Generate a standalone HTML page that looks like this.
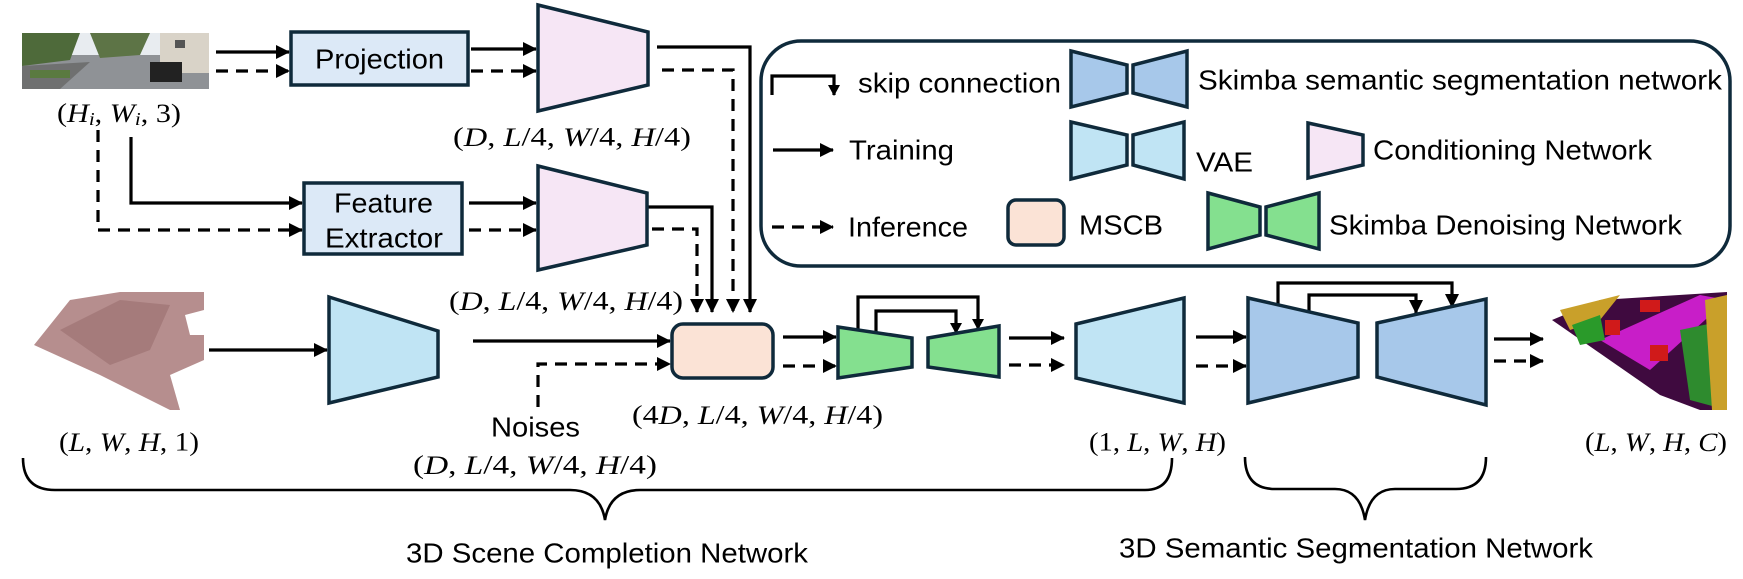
<!DOCTYPE html>
<html><head><meta charset="utf-8"><style>
html,body{margin:0;padding:0;background:#fff;}
svg{display:block;}
.s{font-family:"Liberation Sans",Arial,sans-serif;font-size:28px;fill:#000;}
.m{font-family:"Liberation Serif",serif;font-size:26px;fill:#000;}
.i{font-style:italic;}
</style></head><body>
<svg width="1743" height="579" viewBox="0 0 1743 579" xmlns="http://www.w3.org/2000/svg">
<defs>
<marker id="a" markerUnits="userSpaceOnUse" markerWidth="14" markerHeight="14" refX="13" refY="7" orient="auto"><path d="M0,0 L14,7 L0,14 z" fill="#000"/></marker>
<marker id="b" markerUnits="userSpaceOnUse" markerWidth="11" markerHeight="12" refX="10" refY="6" orient="auto"><path d="M0,0 L11,6 L0,12 z" fill="#000"/></marker>
</defs>
<g stroke="#000" stroke-width="3.2" fill="none">
<!-- photo to projection -->
<line x1="216" y1="52" x2="289" y2="52" marker-end="url(#a)"/>
<line x1="216" y1="71" x2="289" y2="71" stroke-dasharray="12 8" marker-end="url(#a)"/>
<line x1="471" y1="49" x2="536" y2="49" marker-end="url(#a)"/>
<line x1="471" y1="71" x2="536" y2="71" stroke-dasharray="12 8" marker-end="url(#a)"/>
<path d="M657,47 H750 V312" marker-end="url(#a)"/>
<path d="M662,70 H733 V312" stroke-dasharray="12 8" marker-end="url(#a)"/>
<path d="M648,207 H712 V312" marker-end="url(#a)"/>
<path d="M652,229 H697 V312" stroke-dasharray="12 8" marker-end="url(#a)"/>
<path d="M131,137 V203 H302" marker-end="url(#a)"/>
<path d="M98,130 V230 H302" stroke-dasharray="12 8" marker-end="url(#a)"/>
<line x1="469" y1="203" x2="536" y2="203" marker-end="url(#a)"/>
<line x1="469" y1="230" x2="536" y2="230" stroke-dasharray="12 8" marker-end="url(#a)"/>
<line x1="209" y1="350" x2="327" y2="350" marker-end="url(#a)"/>
<line x1="473" y1="341" x2="670" y2="341" marker-end="url(#a)"/>
<path d="M538,407 V364 H670" stroke-dasharray="12 8" marker-end="url(#a)"/>
<line x1="783" y1="337" x2="836" y2="337" marker-end="url(#a)"/>
<line x1="783" y1="366" x2="836" y2="366" stroke-dasharray="12 8" marker-end="url(#a)"/>
<line x1="1009" y1="338" x2="1064" y2="338" marker-end="url(#a)"/>
<line x1="1009" y1="365" x2="1064" y2="365" stroke-dasharray="12 8" marker-end="url(#a)"/>
<line x1="1196" y1="337" x2="1246" y2="337" marker-end="url(#a)"/>
<line x1="1196" y1="366" x2="1246" y2="366" stroke-dasharray="12 8" marker-end="url(#a)"/>
<line x1="1494" y1="339" x2="1543" y2="339" marker-end="url(#a)"/>
<line x1="1494" y1="361" x2="1543" y2="361" stroke-dasharray="12 8" marker-end="url(#a)"/>
<!-- skips -->
<path d="M858,330 V297 H978 V329" marker-end="url(#b)"/>
<path d="M876,333 V311 H956 V333" marker-end="url(#b)"/>
<path d="M1278,305 V283 H1452 V307" marker-end="url(#a)"/>
<path d="M1309,312 V295 H1416 V313" marker-end="url(#a)"/>
<!-- legend arrows -->
<path d="M772,95 V76 H834 V95" marker-end="url(#b)"/>
<line x1="773" y1="150" x2="833" y2="150" marker-end="url(#a)"/>
<line x1="772" y1="227" x2="833" y2="227" stroke-dasharray="12 8" marker-end="url(#a)"/>
<!-- braces -->
<path d="M23,458 Q23,490 55,490 H570 Q600,490 605,520 Q610,490 640,490 H1145 Q1172,490 1172,458" stroke-width="2.6"/>
<path d="M1245,457 Q1245,489 1275,489 H1335 Q1360,489 1365,520 Q1370,489 1395,489 H1456 Q1486,489 1486,457" stroke-width="2.6"/>
</g>
<!-- shapes -->
<g stroke="#0f2a3b" stroke-width="3.5" stroke-linejoin="miter">
<rect x="291" y="32" width="177" height="53" fill="#dce9f7"/>
<rect x="304" y="183" width="158" height="71" fill="#dce9f7"/>
<polygon points="538,5 648,32 648,85 538,111" fill="#f6e6f5"/>
<polygon points="538,166 647,193 647,245 538,270" fill="#f6e6f5"/>
<polygon points="329,297 438,331 438,377 329,403" fill="#c0e4f4"/>
<rect x="672" y="324" width="101" height="54" rx="11" fill="#fbe3d6"/>
<polygon points="838,327 912,338 912,367 838,378" fill="#84e08f"/>
<polygon points="928,338 999,326 999,377 928,367" fill="#84e08f"/>
<polygon points="1076,324 1184,298 1184,403 1076,378" fill="#c0e4f4"/>
<polygon points="1248,298 1358,323 1358,377 1248,403" fill="#a7c8ea"/>
<polygon points="1377,323 1486,299 1486,405 1377,377" fill="#a7c8ea"/>
<!-- legend -->
<rect x="761" y="41" width="969" height="225" rx="40" fill="none"/>
<polygon points="1071,51 1127,65 1127,93 1071,107" fill="#a7c8ea"/>
<polygon points="1133,65 1187,51 1187,107 1133,93" fill="#a7c8ea"/>
<polygon points="1071,122 1127,135 1127,165 1071,179" fill="#c0e4f4"/>
<polygon points="1133,135 1184,122 1184,179 1133,165" fill="#c0e4f4"/>
<polygon points="1308,123 1363,135 1363,165 1308,178" fill="#f6e6f5"/>
<rect x="1008" y="200" width="56" height="45" rx="8" fill="#fbe3d6"/>
<polygon points="1208,193 1260,207 1260,235 1208,249" fill="#84e08f"/>
<polygon points="1266,207 1319,193 1319,249 1266,235" fill="#84e08f"/>
</g>
<!-- photo -->
<g>
<rect x="22" y="33" width="187" height="56" fill="#8f9296"/>
<rect x="22" y="33" width="187" height="22" fill="#e8ecf0"/>
<polygon points="22,33 80,33 70,60 22,66" fill="#4e6a3a"/>
<polygon points="90,33 150,33 140,55 100,58" fill="#5d7446"/>
<rect x="160" y="33" width="49" height="40" fill="#d9d3c8"/>
<rect x="175" y="40" width="10" height="8" fill="#555"/>
<polygon points="22,66 90,62 60,89 22,89" fill="#6f7070"/>
<rect x="150" y="62" width="32" height="20" fill="#222"/>
<rect x="30" y="70" width="40" height="8" fill="#5a7a40"/>
</g>
<!-- point cloud -->
<g>
<polygon points="34,345 70,300 120,292 204,292 204,410 170,410 140,395 100,375" fill="#b68e8e"/>
<polygon points="60,330 120,300 170,305 150,350 110,365" fill="#a57b7b"/>
<polygon points="170,375 204,360 204,410 180,410" fill="#fff"/>
<polygon points="185,315 204,310 204,335 190,335" fill="#fff"/>
</g>
<!-- output -->
<g>
<polygon points="1552,320 1600,300 1727,292 1727,410 1700,410 1660,395" fill="#3f0a3f"/>
<polygon points="1600,340 1700,295 1727,300 1650,370" fill="#c81ec8"/>
<polygon points="1560,310 1620,295 1600,320 1570,330" fill="#c9a02a"/>
<polygon points="1680,330 1727,320 1727,410 1690,400" fill="#2e8b2e"/>
<polygon points="1705,300 1727,295 1727,410 1712,410" fill="#c9a02a"/>
<rect x="1605" y="320" width="15" height="15" fill="#d01a1a"/>
<rect x="1650" y="345" width="18" height="16" fill="#d01a1a"/>
<rect x="1640" y="300" width="20" height="12" fill="#d01a1a"/>
<polygon points="1572,325 1600,315 1605,340 1580,345" fill="#2a9a2a"/>
</g>
<!-- text -->
<g class="s" dominant-baseline="central">
<text x="315" y="59" textLength="129" lengthAdjust="spacingAndGlyphs">Projection</text>
<text x="334" y="203" textLength="99" lengthAdjust="spacingAndGlyphs">Feature</text>
<text x="325" y="238" textLength="118" lengthAdjust="spacingAndGlyphs">Extractor</text>
<text x="858" y="83" textLength="203" lengthAdjust="spacingAndGlyphs">skip connection</text>
<text x="1198" y="80" textLength="524" lengthAdjust="spacingAndGlyphs">Skimba semantic segmentation network</text>
<text x="849" y="150" textLength="105" lengthAdjust="spacingAndGlyphs">Training</text>
<text x="1196" y="162" textLength="57" lengthAdjust="spacingAndGlyphs">VAE</text>
<text x="1373" y="150" textLength="279" lengthAdjust="spacingAndGlyphs">Conditioning Network</text>
<text x="848" y="227" textLength="120" lengthAdjust="spacingAndGlyphs">Inference</text>
<text x="1079" y="225" textLength="84" lengthAdjust="spacingAndGlyphs">MSCB</text>
<text x="1329" y="225" textLength="353" lengthAdjust="spacingAndGlyphs">Skimba Denoising Network</text>
<text x="491" y="427" textLength="89" lengthAdjust="spacingAndGlyphs">Noises</text>
<text x="406" y="553" textLength="402" lengthAdjust="spacingAndGlyphs">3D Scene Completion Network</text>
<text x="1119" y="548" textLength="474" lengthAdjust="spacingAndGlyphs">3D Semantic Segmentation Network</text>
</g>
<g class="m" dominant-baseline="central">
<text x="57" y="113" textLength="124" lengthAdjust="spacingAndGlyphs">(<tspan class="i">H</tspan><tspan class="i" font-size="18" dy="6">i</tspan><tspan dy="-6">, </tspan><tspan class="i">W</tspan><tspan class="i" font-size="18" dy="6">i</tspan><tspan dy="-6">, 3)</tspan></text>
<text x="453" y="137" textLength="238" lengthAdjust="spacingAndGlyphs">(<tspan class="i">D</tspan>, <tspan class="i">L</tspan>/4, <tspan class="i">W</tspan>/4, <tspan class="i">H</tspan>/4)</text>
<text x="449" y="301" textLength="234" lengthAdjust="spacingAndGlyphs">(<tspan class="i">D</tspan>, <tspan class="i">L</tspan>/4, <tspan class="i">W</tspan>/4, <tspan class="i">H</tspan>/4)</text>
<text x="413" y="465" textLength="244" lengthAdjust="spacingAndGlyphs">(<tspan class="i">D</tspan>, <tspan class="i">L</tspan>/4, <tspan class="i">W</tspan>/4, <tspan class="i">H</tspan>/4)</text>
<text x="632" y="415" textLength="251" lengthAdjust="spacingAndGlyphs">(4<tspan class="i">D</tspan>, <tspan class="i">L</tspan>/4, <tspan class="i">W</tspan>/4, <tspan class="i">H</tspan>/4)</text>
<text x="59" y="442" textLength="140" lengthAdjust="spacingAndGlyphs">(<tspan class="i">L</tspan>, <tspan class="i">W</tspan>, <tspan class="i">H</tspan>, 1)</text>
<text x="1089" y="442" textLength="137" lengthAdjust="spacingAndGlyphs">(1, <tspan class="i">L</tspan>, <tspan class="i">W</tspan>, <tspan class="i">H</tspan>)</text>
<text x="1585" y="442" textLength="142" lengthAdjust="spacingAndGlyphs">(<tspan class="i">L</tspan>, <tspan class="i">W</tspan>, <tspan class="i">H</tspan>, <tspan class="i">C</tspan>)</text>
</g>
</svg>
</body></html>
